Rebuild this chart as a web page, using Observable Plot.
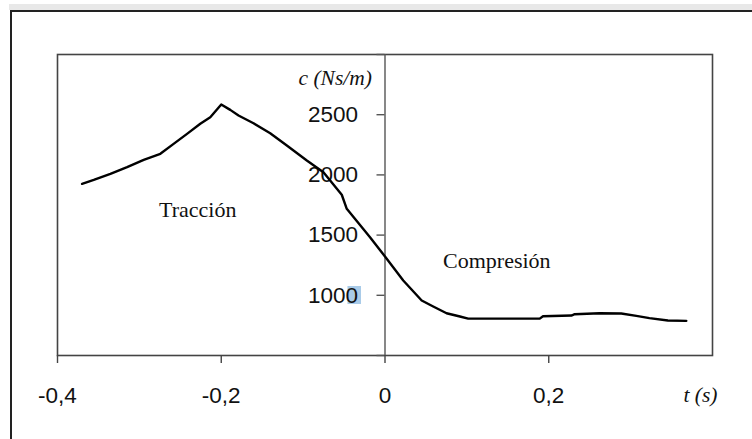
<!DOCTYPE html>
<html><head><meta charset="utf-8">
<script src="https://cdn.jsdelivr.net/npm/d3@7"></script>
<script src="https://cdn.jsdelivr.net/npm/@observablehq/plot@0.6"></script>
<style>
html,body{margin:0;padding:0;background:#fff;width:752px;height:439px;overflow:hidden;position:relative;}
#strip{position:absolute;left:9px;top:4px;width:743px;height:6px;background:#e8e8e8;}
#frame{position:absolute;left:10px;top:10px;width:760px;height:460px;border-top:2px solid #222;border-left:2px solid #222;}
#chart{position:absolute;left:0;top:0;}
</style></head><body>
<div id="strip"></div><div id="frame"></div><div id="chart"></div>
<script>
// time t (s) and damping coefficient c (Ns/m)
const time = [-0.370, -0.3557, -0.3354, -0.315, -0.2947, -0.2744, -0.2582, -0.2418, -0.2256, -0.2134,
  -0.200, -0.189, -0.1789, -0.1606, -0.1402, -0.1199, -0.0955, -0.0752, -0.0528, -0.0467,
  -0.0183, 0, 0.0223, 0.0448, 0.0589, 0.0752, 0.0915, 0.1016, 0.189, 0.193,
  0.2277, 0.2317, 0.262, 0.2886, 0.307, 0.323, 0.3455, 0.368];
const damping = [1926, 1958, 2008, 2064, 2125, 2175, 2258, 2341, 2425, 2479,
  2585, 2540, 2493, 2429, 2346, 2244, 2120, 2022, 1835, 1718,
  1483, 1322, 1123, 957, 907, 851, 824, 806, 806, 826,
  832, 843, 851, 849, 829, 810, 791, 788];
const xTicks = [-0.4, -0.2, 0, 0.2];
const yTicks = [500, 1000, 1500, 2000, 2500, 3000];
const yLabels = [1000, 1500, 2000, 2500];
const regionNames = ["Tracción", "Compresión"];
const regionT = [-0.2287, 0.1366];
const regionC = [1713, 1289];
const xDomain = [-0.4, 0.4];
const yDomain = [500, 3000];

const data = time.map((t, i) => ({t, c: damping[i]}));
const regions = regionNames.map((name, i) => ({name, t: regionT[i], c: regionC[i]}));

const sans = "'Liberation Sans', Arial, sans-serif";
const serif = "'Liberation Serif', 'Times New Roman', serif";

const chart = Plot.plot({
  width: 752,
  height: 439,
  marginLeft: 57,
  marginRight: 40,
  marginTop: 54,
  marginBottom: 84,
  style: {background: "transparent", overflow: "visible", fontFamily: sans, color: "#111"},
  x: {domain: xDomain, axis: null},
  y: {domain: yDomain, axis: null},
  marks: [
    Plot.frame({stroke: "#444", strokeWidth: 1.6}),
    Plot.ruleX([0], {y1: yDomain[0], y2: yDomain[1], stroke: "#555", strokeWidth: 1.4}),
    Plot.ruleY(yTicks, {x1: 0, x2: 0, insetLeft: -8, stroke: "#555", strokeWidth: 1.4}),
    Plot.text(yLabels, {x: () => 0, y: d => d, text: d => String(d), textAnchor: "end", dx: -27,
      fontSize: 22.5, fontFamily: sans, fill: "#111"}),
    Plot.axisX(xTicks, {label: null, tickSize: 8, tickPadding: 24, stroke: "#444", strokeWidth: 1.4,
      fontSize: 22.5, fontFamily: sans, fill: "#111",
      tickFormat: d => d === 0 ? "0" : String(d).replace("0.", "0,")}),
    Plot.line(data, {x: "t", y: "c", stroke: "#000", strokeWidth: 2.4}),
    Plot.text(regions, {x: "t", y: "c", text: "name", fontSize: 22, fontFamily: serif, fill: "#111"}),
    Plot.text(["c (Ns/m)"], {x: () => 0, y: () => yDomain[1], textAnchor: "end", dx: -13, dy: 24,
      fontSize: 21.5, fontStyle: "italic", fontFamily: serif, fill: "#111"}),
    Plot.text(["t (s)"], {x: () => xDomain[1], y: () => yDomain[0], dx: -12, dy: 40,
      fontSize: 21.5, fontStyle: "italic", fontFamily: serif, fill: "#111"})
  ]
});
document.getElementById("chart").appendChild(chart);

// selection highlight behind the last digit of the "1000" label
d3.select(chart).selectAll("text").filter(function() { return this.textContent === "1000"; }).each(function() {
  try {
    const ext = this.getExtentOfChar(3);
    const box = this.getBBox();
    const cy = box.y + box.height / 2;
    const parent = this.parentNode;
    const rect = document.createElementNS("http://www.w3.org/2000/svg", "rect");
    rect.setAttribute("x", ext.x + 2);
    rect.setAttribute("y", cy - 9);
    rect.setAttribute("width", ext.width + 1);
    rect.setAttribute("height", 18);
    rect.setAttribute("fill", "#a9cbe8");
    const tr = this.getAttribute("transform");
    if (tr) rect.setAttribute("transform", tr);
    parent.insertBefore(rect, this);
  } catch (e) {}
});
</script>
</body></html>
